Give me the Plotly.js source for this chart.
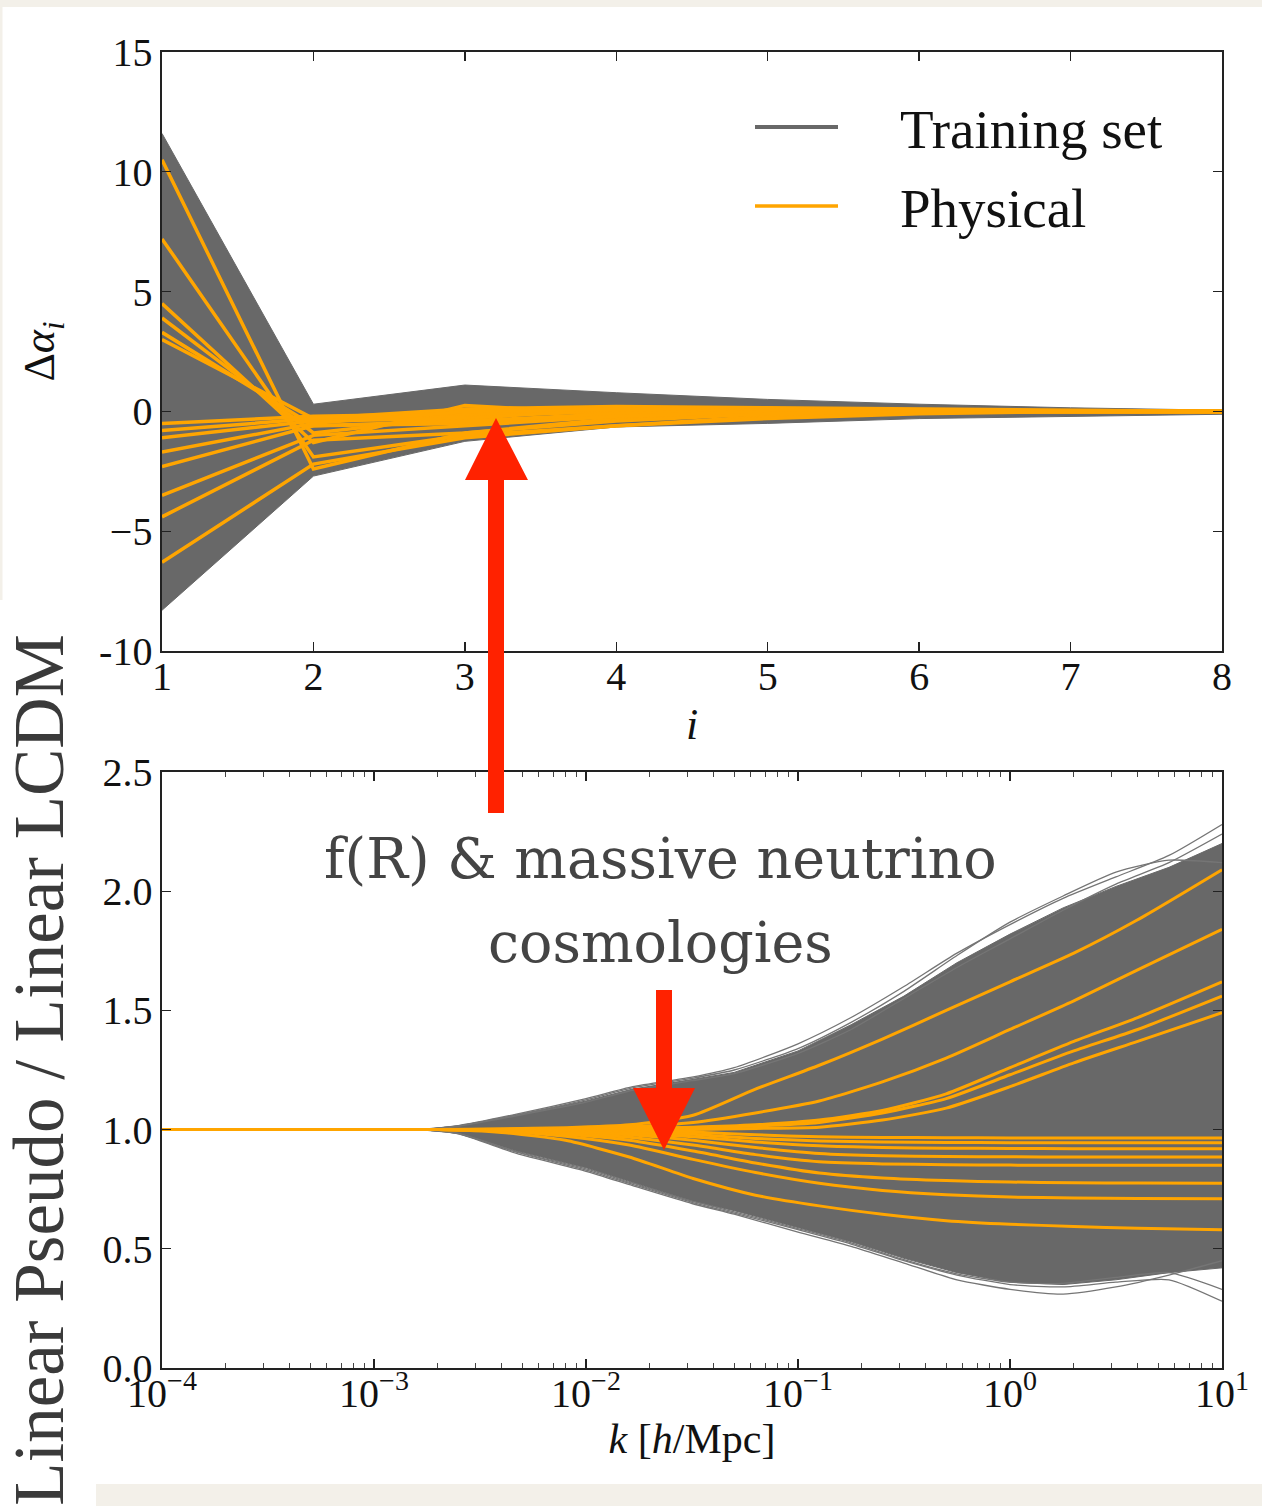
<!DOCTYPE html>
<html>
<head>
<meta charset="utf-8">
<script src="https://cdn.plot.ly/plotly-3.0.1.min.js"></script>
<style>html,body{margin:0;padding:0;background:#fff;}#chart{width:1262px;height:1506px;}</style>
</head>
<body>
<div id="chart"></div>
<script>
// ---------- DATA ----------
// Top panel: coefficient index i and Δα_i
const iIndex = [1, 2, 3, 4, 5, 6, 7, 8];
const trainUpperTop = [11.6, 0.3, 1.1, 0.78, 0.5, 0.3, 0.15, 0.05];
const trainLowerTop = [-8.3, -2.7, -1.25, -0.65, -0.5, -0.3, -0.2, -0.12];
const physTop = [
  [10.5, -2.4, -0.9, -0.3, -0.1, 0, 0, 0],
  [7.2, -1.9, -1.0, -0.6, -0.2, -0.05, 0, 0],
  [4.5, -1.3, 0.25, -0.1, 0.1, 0.05, 0, 0],
  [3.9, -0.9, -0.2, 0.0, 0.05, 0.02, 0, 0],
  [3.3, -0.6, -0.5, -0.2, 0, 0, 0, 0],
  [3.0, -0.3, -0.2, 0.15, 0.1, 0.05, 0.02, 0],
  [-0.5, -0.2, -0.1, 0.0, 0.1, 0.05, 0, 0],
  [-0.8, -0.3, 0.1, 0.2, 0.15, 0.1, 0.05, 0],
  [-1.1, -0.4, -0.3, 0.1, 0.1, 0.05, 0, 0],
  [-1.7, -0.5, 0.0, 0.1, 0.05, 0, 0, 0],
  [-2.3, -0.6, -0.4, -0.1, 0.05, 0, 0, 0],
  [-3.5, -1.0, -0.6, -0.2, 0, 0, 0, 0],
  [-4.4, -1.2, -0.9, -0.4, -0.1, 0, 0, 0],
  [-6.3, -2.2, -1.1, -0.6, -0.3, -0.1, 0, 0]
];
const topYTickVals = [-10, -5, 0, 5, 10, 15];
const topYTickText = ['-10', '\u22125', '0', '5', '10', '15'];

// Bottom panel: k [h/Mpc] and ratio
const kEnv = [0.0001, 0.0016, 0.0025, 0.0047, 0.01, 0.0166, 0.0316, 0.05, 0.1, 0.178, 0.316, 0.562, 1, 1.78, 3.16, 5.62, 10];
const trainUpperBot = [1, 1, 1.015, 1.06, 1.12, 1.17, 1.21, 1.24, 1.33, 1.44, 1.56, 1.7, 1.82, 1.93, 2.02, 2.1, 2.2];
const trainLowerBot = [1, 1, 0.985, 0.91, 0.84, 0.78, 0.7, 0.66, 0.59, 0.53, 0.46, 0.4, 0.36, 0.35, 0.37, 0.4, 0.42];
const trainEdgeLines = [
  [1, 1, 1.017, 1.065, 1.13, 1.18, 1.22, 1.26, 1.36, 1.47, 1.6, 1.74, 1.86, 1.97, 2.06, 2.15, 2.28],
  [1, 1, 1.016, 1.062, 1.125, 1.175, 1.215, 1.25, 1.34, 1.45, 1.58, 1.73, 1.87, 1.98, 2.08, 2.13, 2.12],
  [1, 1, 1.014, 1.058, 1.115, 1.165, 1.205, 1.235, 1.32, 1.42, 1.55, 1.68, 1.8, 1.92, 2.03, 2.12, 2.24],
  [1, 1, 0.982, 0.9, 0.825, 0.765, 0.69, 0.645, 0.57, 0.51, 0.44, 0.37, 0.33, 0.31, 0.34, 0.39, 0.45],
  [1, 1, 0.983, 0.905, 0.83, 0.77, 0.695, 0.65, 0.58, 0.52, 0.45, 0.39, 0.35, 0.34, 0.36, 0.37, 0.28],
  [1, 1, 0.984, 0.908, 0.835, 0.775, 0.7, 0.655, 0.585, 0.525, 0.455, 0.395, 0.36, 0.355, 0.38, 0.4, 0.33]
];
const kPhys = [0.0001, 0.001, 0.002, 0.004, 0.008, 0.016, 0.032, 0.063, 0.126, 0.25, 0.5, 1, 2, 4, 10];
const physBot = [
  [1, 1, 1, 1.003, 1.008, 1.02, 1.06, 1.17, 1.27, 1.38, 1.5, 1.62, 1.74, 1.88, 2.09],
  [1, 1, 1, 1.002, 1.005, 1.012, 1.03, 1.07, 1.12, 1.2, 1.3, 1.42, 1.54, 1.67, 1.84],
  [1, 1, 1, 1, 1.002, 1.005, 1.01, 1.02, 1.04, 1.08, 1.15, 1.26, 1.37, 1.47, 1.62],
  [1, 1, 1, 1, 1.002, 1.004, 1.008, 1.015, 1.03, 1.07, 1.13, 1.23, 1.33, 1.42, 1.56],
  [1, 1, 1, 1, 1, 1, 1, 1.005, 1.01, 1.04, 1.09, 1.18, 1.28, 1.37, 1.49],
  [1, 1, 1, 1, 0.998, 0.995, 0.99, 0.978, 0.97, 0.967, 0.966, 0.965, 0.965, 0.965, 0.965],
  [1, 1, 1, 0.999, 0.996, 0.99, 0.98, 0.963, 0.952, 0.948, 0.946, 0.945, 0.945, 0.945, 0.945],
  [1, 1, 1, 0.998, 0.993, 0.985, 0.97, 0.948, 0.932, 0.925, 0.922, 0.921, 0.92, 0.92, 0.92],
  [1, 1, 1, 0.997, 0.99, 0.978, 0.955, 0.925, 0.9, 0.89, 0.887, 0.886, 0.885, 0.885, 0.885],
  [1, 1, 1, 0.996, 0.985, 0.968, 0.935, 0.895, 0.865, 0.856, 0.853, 0.851, 0.85, 0.85, 0.85],
  [1, 1, 1, 0.995, 0.98, 0.955, 0.91, 0.86, 0.818, 0.797, 0.786, 0.78, 0.777, 0.776, 0.775],
  [1, 1, 1, 0.994, 0.972, 0.935, 0.875, 0.82, 0.775, 0.745, 0.727, 0.717, 0.713, 0.711, 0.71],
  [1, 1, 1, 0.988, 0.955, 0.885, 0.795, 0.725, 0.68, 0.645, 0.618, 0.603, 0.594, 0.586, 0.58]
];
const botXTickVals = [0.0001, 0.001, 0.01, 0.1, 1, 10];
const botXTickText = ['10<sup>\u22124</sup>', '10<sup>\u22123</sup>', '10<sup>\u22122</sup>', '10<sup>\u22121</sup>', '10<sup>0</sup>', '10<sup>1</sup>'];
const botYTickVals = [0, 0.5, 1, 1.5, 2, 2.5];
const botYTickText = ['0.0', '0.5', '1.0', '1.5', '2.0', '2.5'];

const legendLabels = ['Training set', 'Physical'];
const annotationLines = ['f(R) &amp; massive neutrino', 'cosmologies'];

// ---------- STYLE ----------
const GRAY = '#686868';
const ORANGE = '#FFA500';
const RED = '#FF2200';
const SERIF = 'Liberation Serif, Times New Roman, serif';

// pixel -> paper helpers (plot area: x 162..1222, y 52..1368)
const L = 162, R = 1222, T = 52, B = 1368;
const PX = p => (p - L) / (R - L);
const PY = p => (B - p) / (B - T);

const traces = [];
// top: training envelope
traces.push({
  x: iIndex.concat(iIndex.slice().reverse()),
  y: trainUpperTop.concat(trainLowerTop.slice().reverse()),
  xaxis: 'x', yaxis: 'y', type: 'scatter', mode: 'lines',
  fill: 'toself', fillcolor: GRAY, line: {color: GRAY, width: 1},
  showlegend: false, hoverinfo: 'skip'
});
physTop.forEach(v => traces.push({
  x: iIndex, y: v, xaxis: 'x', yaxis: 'y', type: 'scatter', mode: 'lines',
  line: {color: ORANGE, width: 3.5}, showlegend: false
}));
// bottom: training envelope
traces.push({
  x: kEnv.concat(kEnv.slice().reverse()),
  y: trainUpperBot.concat(trainLowerBot.slice().reverse()),
  xaxis: 'x2', yaxis: 'y2', type: 'scatter', mode: 'lines',
  fill: 'toself', fillcolor: GRAY, line: {color: GRAY, width: 1},
  showlegend: false, hoverinfo: 'skip'
});
trainEdgeLines.forEach(v => traces.push({
  x: kEnv, y: v, xaxis: 'x2', yaxis: 'y2', type: 'scatter', mode: 'lines',
  line: {color: '#757575', width: 1.3, shape: 'spline', smoothing: 0.6}, showlegend: false
}));
physBot.forEach(v => traces.push({
  x: kPhys, y: v, xaxis: 'x2', yaxis: 'y2', type: 'scatter', mode: 'lines',
  line: {color: ORANGE, width: 3, shape: 'spline', smoothing: 0.6}, showlegend: false
}));

function pathFromPx(pts) {
  return 'M' + pts.map(p => PX(p[0]).toFixed(5) + ',' + PY(p[1]).toFixed(5)).join(' L') + ' Z';
}
const shapes = [
  // beige paper edges
  {type: 'rect', xref: 'paper', yref: 'paper', x0: PX(0), x1: PX(1262), y0: PY(0), y1: PY(7), fillcolor: '#f3f0e9', line: {width: 0}, layer: 'below'},
  {type: 'rect', xref: 'paper', yref: 'paper', x0: PX(0), x1: PX(2.5), y0: PY(7), y1: PY(600), fillcolor: '#f3f0e9', line: {width: 0}, layer: 'below'},
  {type: 'rect', xref: 'paper', yref: 'paper', x0: PX(96), x1: PX(1262), y0: PY(1484), y1: PY(1506), fillcolor: '#f3f0e9', line: {width: 0}, layer: 'below'},
  // legend samples
  {type: 'line', xref: 'paper', yref: 'paper', x0: PX(755), x1: PX(838), y0: PY(127), y1: PY(127), line: {color: GRAY, width: 4}},
  {type: 'line', xref: 'paper', yref: 'paper', x0: PX(755), x1: PX(838), y0: PY(206), y1: PY(206), line: {color: ORANGE, width: 3.5}},
  // red arrows
  {type: 'path', xref: 'paper', yref: 'paper', layer: 'above', fillcolor: RED, line: {width: 0},
   path: pathFromPx([[488, 813], [488, 480], [465, 480], [496, 418], [528, 480], [504, 480], [504, 813]])},
  {type: 'path', xref: 'paper', yref: 'paper', layer: 'above', fillcolor: RED, line: {width: 0},
   path: pathFromPx([[656, 990], [656, 1088], [633, 1088], [664, 1150], [695, 1088], [672, 1088], [672, 990]])}
];

const annotations = [
  {xref: 'paper', yref: 'paper', x: PX(898), y: PY(130), xanchor: 'left', yanchor: 'middle', showarrow: false,
   text: legendLabels[0], font: {family: SERIF, size: 55, color: '#111'}},
  {xref: 'paper', yref: 'paper', x: PX(898), y: PY(208), xanchor: 'left', yanchor: 'middle', showarrow: false,
   text: legendLabels[1], font: {family: SERIF, size: 55, color: '#111'}},
  {xref: 'paper', yref: 'paper', x: PX(660), y: PY(858), xanchor: 'center', yanchor: 'middle', showarrow: false,
   text: annotationLines[0], font: {family: 'DejaVu Serif, serif', size: 55.5, color: '#444'}},
  {xref: 'paper', yref: 'paper', x: PX(660), y: PY(942), xanchor: 'center', yanchor: 'middle', showarrow: false,
   text: annotationLines[1], font: {family: 'DejaVu Serif, serif', size: 55.5, color: '#444'}}
];

const axisCommon = {
  showgrid: false, zeroline: false, showline: true, linecolor: '#222', linewidth: 1.6,
  mirror: 'ticks', ticks: 'inside', ticklen: 9, tickwidth: 1.3, tickcolor: '#222',
  tickfont: {family: SERIF, size: 40, color: '#111'}
};

const layout = {
  width: 1262, height: 1506,
  margin: {l: L, r: 1262 - R, t: T, b: 1506 - B},
  paper_bgcolor: '#ffffff', plot_bgcolor: '#ffffff',
  showlegend: false,
  xaxis: Object.assign({}, axisCommon, {
    anchor: 'y', domain: [0, 1], range: [1, 8], tickmode: 'array', tickvals: iIndex,
    ticktext: iIndex.map(String), ticklabelstandoff: -11,
    title: {text: '<i>i</i>', font: {family: SERIF, size: 44, color: '#111'}, standoff: 10}
  }),
  yaxis: Object.assign({}, axisCommon, {
    anchor: 'x', domain: [PY(651), 1], range: [-10, 15], tickmode: 'array',
    tickvals: topYTickVals, ticktext: topYTickText,
    title: {text: '\u0394<i>\u03b1<sub>i</sub></i>', font: {family: SERIF, size: 44, color: '#111'}, standoff: 30}
  }),
  xaxis2: Object.assign({}, axisCommon, {
    anchor: 'y2', domain: [0, 1], type: 'log', range: [-4, 1], tickmode: 'array',
    tickvals: botXTickVals, ticktext: botXTickText, ticklabelstandoff: -11,
    minor: {ticks: 'inside', ticklen: 5, tickwidth: 1, tickcolor: '#444', dtick: 'D1'},
    title: {text: '<i>k</i> [<i>h</i>/Mpc]', font: {family: SERIF, size: 42, color: '#111'}, standoff: 6}
  }),
  yaxis2: Object.assign({}, axisCommon, {
    anchor: 'x2', domain: [0, PY(772)], range: [0, 2.5], tickmode: 'array',
    tickvals: botYTickVals, ticktext: botYTickText,
    title: {text: 'Linear Pseudo / Linear LCDM', font: {family: SERIF, size: 71, color: '#3a3a3a'}, standoff: 26}
  }),
  shapes: shapes,
  annotations: annotations
};

Plotly.newPlot('chart', traces, layout, {displayModeBar: false, staticPlot: true});
</script>
</body>
</html>
